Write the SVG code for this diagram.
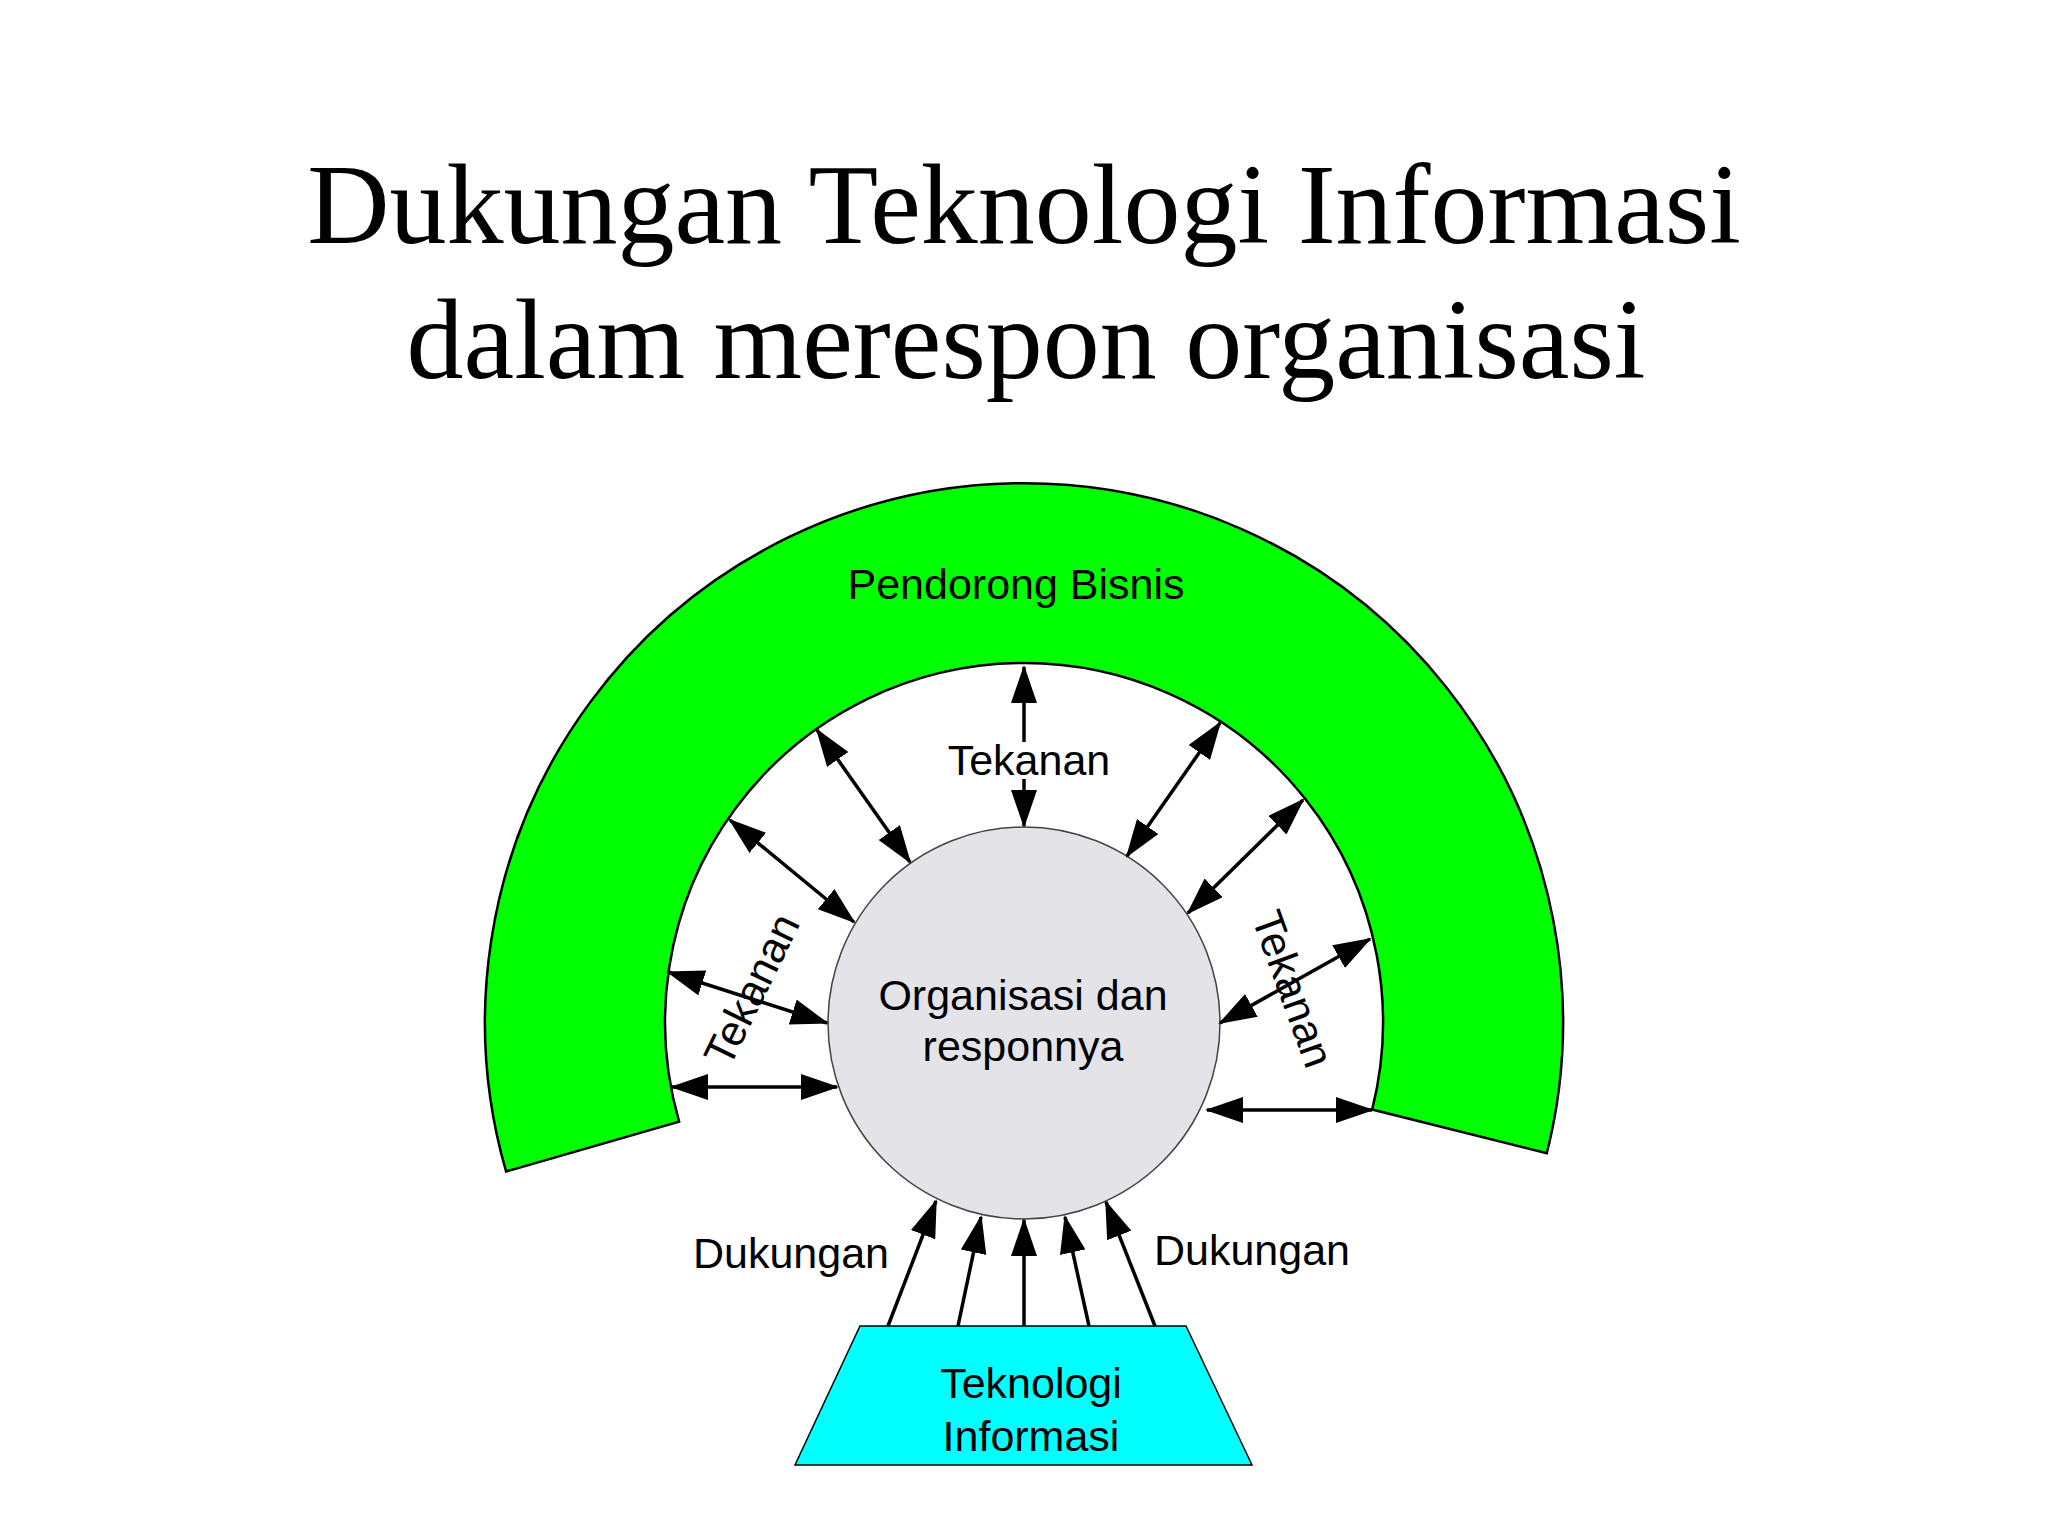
<svg xmlns="http://www.w3.org/2000/svg" width="2048" height="1536" viewBox="0 0 2048 1536">
<style>
.title{font-family:"Liberation Serif","Times New Roman",serif;font-size:114px;fill:#000;text-anchor:middle}
.lbl{font-family:"Liberation Sans",Arial,sans-serif;font-size:43px;fill:#000;text-anchor:middle}
.arr{stroke:#000;stroke-width:3.5;fill:none}
.both{marker-start:url(#ah);marker-end:url(#ah)}
.one{marker-end:url(#ah)}
</style>
<defs>
<marker id="ah" viewBox="0 0 38 26" markerWidth="38" markerHeight="26" refX="36" refY="13" orient="auto-start-reverse" markerUnits="userSpaceOnUse">
<path d="M0,0 L38,13 L0,26 Z" fill="#000"/>
</marker>
</defs>
<rect width="2048" height="1536" fill="#fff"/>
<g id="title">
<text class="title" x="1024" y="243">Dukungan Teknologi Informasi</text>
<text class="title" x="1026" y="378">dalam merespon organisasi</text>
</g>
<g id="pendorong-bisnis">
<path d="M506.1,1171.5 A539,539 0 1 1 1546.8,1153.3 L1372.2,1109.5 A359,359 0 1 0 679.1,1121.6 Z" fill="#00ff00" stroke="#000" stroke-width="2.5" stroke-linejoin="miter"/>
<text class="lbl" x="1016" y="599">Pendorong Bisnis</text>
</g>
<g id="organisasi">
<circle cx="1024" cy="1023" r="196" fill="#e4e3e8" stroke="#444" stroke-width="1.5"/>
<text class="lbl" x="1023" y="1010">Organisasi dan</text>
<text class="lbl" x="1023" y="1061">responnya</text>
</g>
<g id="teknologi-informasi">
<polygon points="860,1326 1186,1326 1252,1465 795,1465" fill="#00ffff" stroke="#000" stroke-width="1.5"/>
<text class="lbl" x="1031" y="1398">Teknologi</text>
<text class="lbl" x="1031" y="1451">Informasi</text>
</g>
<g id="connectors">
<line class="arr both" x1="1024" y1="667" x2="1024" y2="826"/>
<line class="arr both" x1="817" y1="730" x2="910" y2="862"/>
<line class="arr both" x1="730" y1="820" x2="854" y2="922"/>
<line class="arr both" x1="668" y1="972" x2="827" y2="1023"/>
<line class="arr both" x1="672" y1="1087" x2="837" y2="1087"/>
<line class="arr both" x1="1220" y1="723" x2="1127" y2="856"/>
<line class="arr both" x1="1303" y1="800" x2="1188" y2="913"/>
<line class="arr both" x1="1370" y1="939" x2="1220" y2="1023"/>
<line class="arr both" x1="1207" y1="1110" x2="1372" y2="1110"/>
<line class="arr one" x1="888" y1="1326" x2="936" y2="1201"/>
<line class="arr one" x1="958" y1="1326" x2="981" y2="1217"/>
<line class="arr one" x1="1024" y1="1326" x2="1024" y2="1220"/>
<line class="arr one" x1="1089" y1="1326" x2="1065" y2="1217"/>
<line class="arr one" x1="1155" y1="1326" x2="1106" y2="1202"/>
</g>
<g id="labels">
<rect x="945" y="742" width="168" height="37" fill="#fff"/>
<text class="lbl" x="1029" y="775">Tekanan</text>
<text class="lbl" transform="translate(765,996) rotate(-64)" x="0" y="0">Tekanan</text>
<text class="lbl" transform="translate(1279,994) rotate(70)" x="0" y="0">Tekanan</text>
<text class="lbl" x="791" y="1268">Dukungan</text>
<text class="lbl" x="1252" y="1265">Dukungan</text>
</g>
</svg>
